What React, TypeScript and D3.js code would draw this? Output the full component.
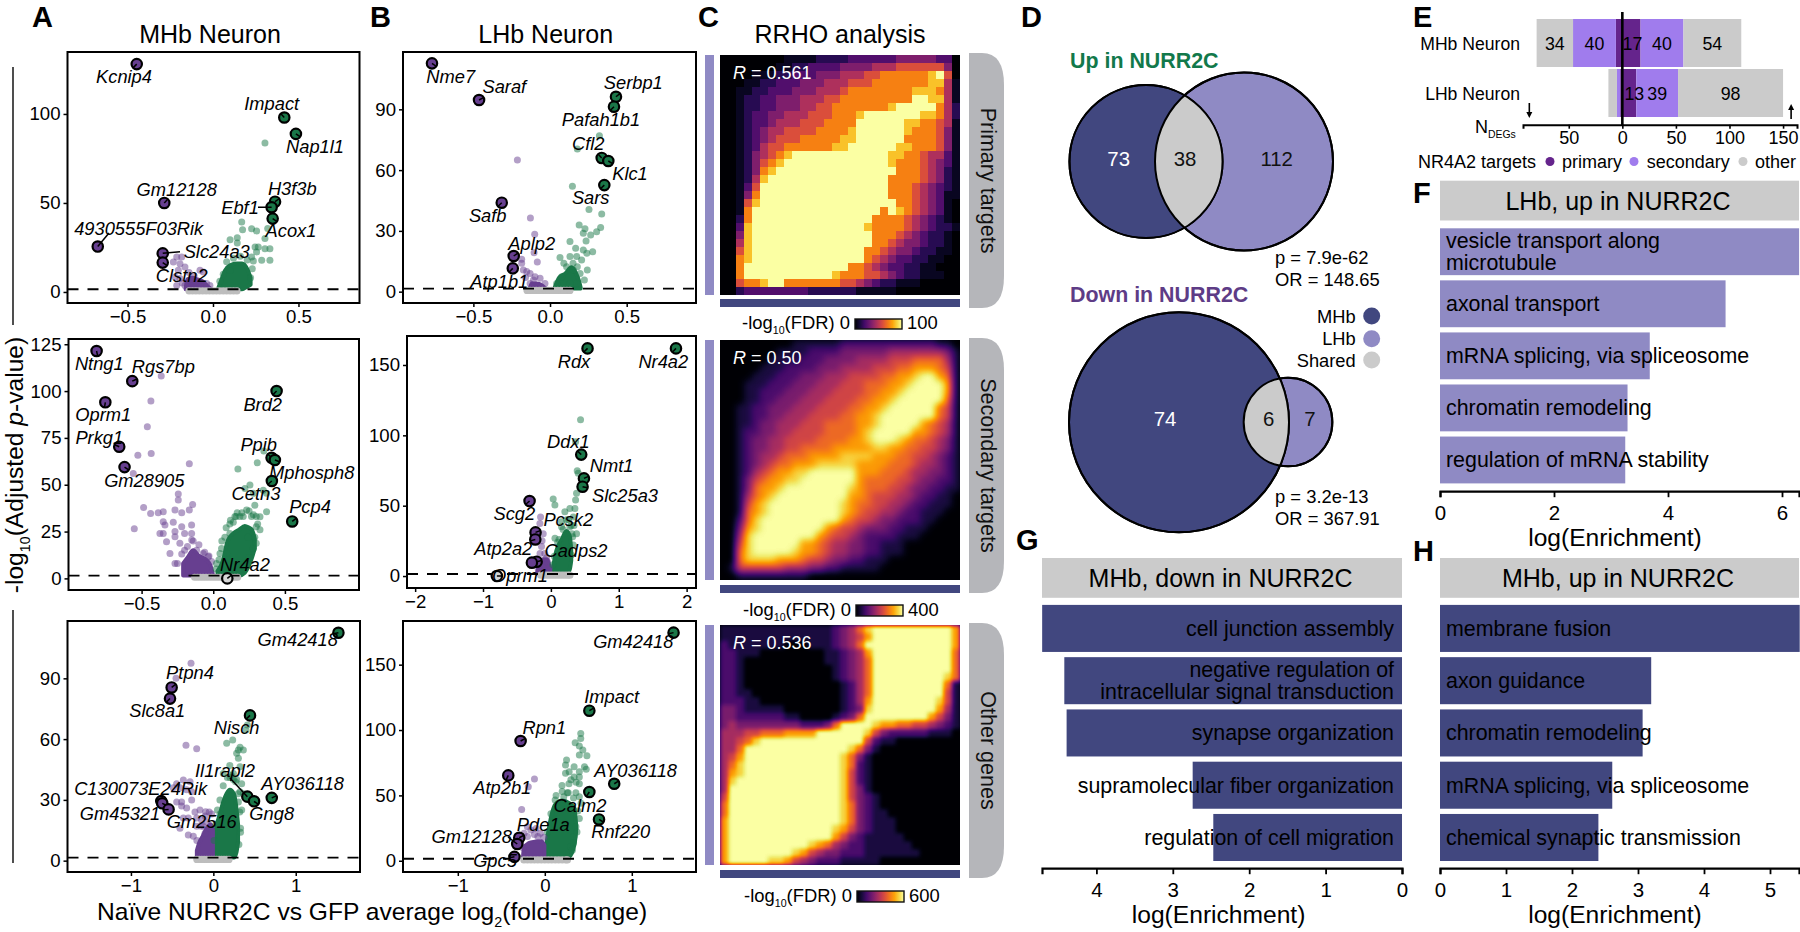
import React, { useEffect, useRef } from "react";
import * as d3 from "d3";

type Pt = [number, number];
type Core = [number, number, number?];

// ---- volcano data: [log2FC, -log10 p]
const mhbPrimaryGenes: [string, number, number][] = [["Kcnip4", -0.446, 128], ["Impact", 0.417, 98], ["Nap1l1", 0.485, 88.8], ["Gm12128", -0.285, 50], ["4930555F03Rik", -0.674, 25.5], ["Slc24a3", -0.294, 21.7], ["Clstn2", -0.294, 16.5], ["H3f3b", 0.363, 50.7], ["Ebf1", 0.343, 47.6], ["Acox1", 0.349, 41.2]];
const mhbPrimaryUp: Pt[] = [[0.304, 83.7], [0.168, 39.3], [0.173, 35], [0.226, 35.5], [0.255, 34.3], [0.32, 35.6], [0.304, 30], [0.1, 29.4], [0.142, 30.5], [0.142, 27.5], [0.246, 25.3], [0.265, 25.3], [0.333, 24.3], [0.304, 24.3], [0.255, 22.5], [0.285, 17.8], [0.333, 17.8], [0.236, 17.4], [0.226, 19.7], [0.08, 17], [0.12, 19], [0.16, 20], [0.2, 18], [0.23, 13], [0.22, 8], [0.06, 10], [0.04, 6], [0.1, 12]];
const mhbPrimaryDown: Pt[] = [[-0.183, 19.7], [-0.212, 19.7], [-0.232, 16.9], [-0.193, 15.9], [-0.164, 14], [-0.203, 12.2], [-0.222, 8.4], [-0.193, 7.5], [-0.212, 3.7], [-0.164, 3.7], [-0.057, 11.2], [-0.037, 4.7], [-0.018, 3.7], [-0.076, 12.2], [-0.14, 11], [-0.11, 9], [-0.18, 5]];
const mhbPrimaryUpCore: Core[] = [[0.03, 2], [0.05, 7], [0.07, 12], [0.1, 15], [0.14, 16], [0.17, 16], [0.2, 13, 3], [0.22, 8, 4]];
const mhbPrimaryDownCore: Core[] = [[-0.16, 2], [-0.15, 7], [-0.12, 8], [-0.09, 7], [-0.06, 6], [-0.03, 3], [-0.01, 1.6]];
const mhbPrimaryNs = [-0.14, -0.12, -0.1, -0.08, -0.06, -0.04, -0.02, 0, 0.02, 0.04, 0.06, 0.08, 0.1, 0.12, 0.14];
const mhbPrimaryLabels: [number, number, number?, number?][] = [[124, 82.7], [271.7, 110], [315, 153], [176.7, 195.7], [138.7, 235, 109, 233], [216.7, 258, 180, 251.7], [181.7, 281.7], [292.3, 195], [240, 214, 258, 207.3], [291, 237.3]];

const lhbPrimaryGenes: [string, number, number][] = [["Nme7", -0.77, 112.7], ["Saraf", -0.463, 94.6], ["Serbp1", 0.43, 96.2], ["Pafah1b1", 0.417, 91.3], ["Cfl2", 0.337, 66], ["Klc1", 0.38, 64.5], ["Sars", 0.354, 52.6], ["Safb", -0.315, 43.9], ["Aplp2", -0.237, 17.6], ["Atp1b1", -0.243, 11.5]];
const lhbPrimaryUp: Pt[] = [[0.322, 77], [0.178, 70.4], [0.146, 52], [0.254, 40.6], [0.337, 38.3], [0.33, 31.7], [0.304, 29.6], [0.265, 28], [0.19, 32.9], [0.228, 31], [0.217, 28.8], [0.235, 25], [0.13, 24.7], [0.167, 21.4], [0.217, 20.6], [0.278, 19.7], [0.24, 19], [0.065, 16.8], [0.13, 17.3], [0.174, 17.3], [0.206, 15.6], [0.243, 10.7], [0.224, 5.8], [0.178, 12.3], [0.108, 12.3], [0.152, 10.7], [0.196, 9], [0.076, 7.4], [0.043, 4], [0.13, 4], [0.174, 4], [0.09, 14], [0.15, 14]];
const lhbPrimaryDown: Pt[] = [[-0.213, 65], [-0.128, 36.3], [-0.1, 28.3], [-0.104, 19.2], [-0.083, 14.6], [-0.185, 14], [-0.174, 10.7], [-0.152, 9.9], [-0.13, 9], [-0.098, 7.4], [-0.065, 6.6], [-0.033, 4], [-0.13, 4], [-0.108, 5.7], [-0.185, 16], [-0.16, 7]];
const lhbPrimaryUpCore: Core[] = [[0.03, 2], [0.06, 7], [0.1, 9], [0.14, 12], [0.17, 9], [0.19, 5], [0.2, 2]];
const lhbPrimaryDownCore: Core[] = [[-0.13, 2], [-0.12, 4], [-0.09, 4], [-0.05, 3], [-0.03, 1.6]];
const lhbPrimaryNs = [-0.15, -0.13, -0.11, -0.09, -0.07, -0.05, -0.03, -0.01, 0.01, 0.03, 0.05, 0.07, 0.09, 0.11, 0.13];
const lhbPrimaryLabels: [number, number, number?, number?][] = [[450.7, 82.7], [504.3, 92.7], [633.3, 89.3], [601, 125.7], [588.3, 150], [630, 180], [590.7, 204], [487.7, 222.3], [531.7, 250], [499.3, 288.3]];

const mhbSecondaryGenes: [string, number, number][] = [["Ntng1", -0.814, 121.4], ["Rgs7bp", -0.565, 105.3], ["Oprm1", -0.753, 94], ["Prkg1", -0.656, 70.3], ["Gm28905", -0.619, 59.4], ["Brd2", 0.442, 100], ["Ppib", 0.407, 64.4], ["Mphosph8", 0.43, 63.2], ["Cetn3", 0.409, 52], ["Pcp4", 0.551, 30.4], ["Nr4a2", 0.098, 0]];
const mhbSecondaryUp: Pt[] = [[0.353, 68], [0.172, 58.4], [0.307, 61.7], [0.256, 49.8], [0.221, 48], [0.28, 45.4], [0.349, 47], [0.372, 45.4], [0.372, 35.6], [0.326, 32.9], [0.29, 39], [0.233, 36.5], [0.167, 35], [0.151, 33], [0.186, 33], [0.267, 33], [0.3, 27.6], [0.116, 29], [0.116, 24], [0.058, 16], [0.081, 22], [0.093, 13.3], [0.3, 18.7], [0.047, 13.3], [0.023, 8], [0.244, 22], [0.209, 33], [0.326, 26], [0.14, 30], [0.3, 33], [0.06, 20], [0.09, 27], [0.12, 31], [0.16, 33], [0.2, 35], [0.25, 36], [0.28, 34], [0.31, 29], [0.29, 22], [0.28, 16], [0.25, 11], [0.22, 6], [0.04, 10], [0.02, 5]];
const mhbSecondaryDown: Pt[] = [[-0.363, 108], [-0.435, 94.7], [-0.46, 81], [-0.526, 65.8], [-0.433, 66.7], [-0.167, 61.2], [-0.558, 56], [-0.244, 45], [-0.244, 41.8], [-0.144, 39.5], [-0.486, 37.9], [-0.437, 34.7], [-0.384, 35], [-0.349, 35.6], [-0.267, 36.5], [-0.22, 35], [-0.167, 36.5], [-0.551, 26.5], [-0.349, 30.2], [-0.337, 28.5], [-0.279, 30], [-0.22, 27.6], [-0.151, 28.5], [-0.372, 24], [-0.349, 24], [-0.267, 25], [-0.267, 22.2], [-0.326, 19.6], [-0.2, 24], [-0.151, 24], [-0.233, 18.7], [-0.15, 20.5], [-0.302, 13.3], [-0.267, 8], [-0.2, 15], [-0.116, 15], [-0.07, 13.3], [-0.035, 11.6], [-0.012, 9], [-0.25, 8], [-0.22, 13], [-0.18, 17], [-0.14, 20], [-0.1, 18], [-0.06, 14], [-0.03, 12]];
const mhbSecondaryUpCore: Core[] = [[0.03, 4], [0.07, 10], [0.1, 20], [0.14, 24], [0.18, 26], [0.22, 28, 3], [0.25, 27, 7], [0.27, 26, 11], [0.29, 21, 16]];
const mhbSecondaryDownCore: Core[] = [[-0.21, 8], [-0.18, 11], [-0.14, 15], [-0.1, 12], [-0.05, 10], [-0.02, 7], [-0.002, 2]];
const mhbSecondaryNs = [-0.13, -0.11, -0.09, -0.07, -0.05, -0.03, -0.01, 0.01, 0.03, 0.05, 0.07, 0.09, 0.11, 0.13, 0.15, 0.17];
const mhbSecondaryLabels: [number, number, number?, number?][] = [[99.3, 370], [163.3, 372.7], [103.3, 421], [99.3, 444.3], [144.3, 486.7], [262.7, 411], [258.7, 451], [311.7, 479.3], [256, 500], [310, 513.3], [245, 570.7]];

const lhbSecondaryGenes: [string, number, number][] = [["Rdx", 0.54, 161.8], ["Nr4a2", 1.843, 161.8], ["Ddx1", 0.447, 86.3], ["Nmt1", 0.487, 69.4], ["Slc25a3", 0.467, 63.5], ["Scg2", -0.314, 53.3], ["Pcsk2", -0.226, 31], ["Atp2a2", -0.23, 26], ["Cadps2", -0.21, 10.2], ["", -0.28, 9.5], ["Oprm1", -0.796, 0]];
const lhbSecondaryUp: Pt[] = [[0.437, 111], [0.364, 95.5], [0.388, 74.9], [0.403, 73], [0.034, 54.7], [0.059, 50.5], [0.378, 58.8], [0.364, 54], [0.28, 48], [0.354, 48], [0.206, 45.7], [0.157, 38.6], [0.33, 42], [0.23, 40], [0.378, 30], [0.28, 35], [0.06, 26.8], [0.157, 35], [0.34, 36], [0.31, 30], [0.1, 24], [0.33, 22], [0.3, 15], [0.05, 14], [0.18, 33], [0.26, 40], [0.3, 36], [0.32, 28], [0.03, 8], [0.12, 26]];
const lhbSecondaryDown: Pt[] = [[-0.152, 42], [-0.162, 37.4], [-0.113, 30], [-0.138, 21], [-0.16, 16], [-0.09, 16], [-0.065, 13], [-0.187, 5], [-0.13, 25], [-0.18, 10], [-0.05, 10], [-0.02, 6]];
const lhbSecondaryUpCore: Core[] = [[0.02, 3], [0.08, 18], [0.16, 26], [0.23, 32], [0.28, 28, 5], [0.3, 18, 11]];
const lhbSecondaryDownCore: Core[] = [[-0.2, 3], [-0.17, 8], [-0.12, 12], [-0.06, 12], [-0.01, 4]];
const lhbSecondaryNs = [-0.15, -0.11, -0.07, -0.03, 0.01, 0.05, 0.09, 0.13, 0.17, 0.21, 0.25, 0.28];
const lhbSecondaryLabels: [number, number, number?, number?][] = [[574, 367.7], [663.3, 367.7], [568.3, 448.3], [611.7, 471.7], [625, 502.3], [514.3, 520], [568.3, 525.7], [503.3, 555], [576, 557.3], [0, 0], [520, 581.7]];

const mhbOtherGenes: [string, number, number][] = [["Gm42418", 1.518, 112.5], ["Ptpn4", -0.506, 85.5], ["Slc8a1", -0.526, 80], ["Nisch", 0.445, 71.7], ["Il1rapl2", 0.413, 31.6], ["Gng8", 0.494, 29.3], ["AY036118", 0.709, 31], ["C130073E24Rik", -0.632, 29.4], ["Gm2516", -0.62, 28.3], ["Gm45321", -0.543, 25.3]];
const mhbOtherUp: Pt[] = [[0.413, 67], [0.397, 64.5], [0.162, 58], [0.235, 59.5], [0.304, 54.6], [0.364, 54.6], [0.324, 56], [0.283, 53], [0.304, 50.5], [0.2, 47], [0.324, 46.4], [0.121, 43], [0.243, 43], [0.344, 38], [0.283, 40], [0.202, 41], [0.243, 40], [0.364, 33], [0.324, 34], [0.304, 29], [0.081, 23], [0.06, 18.5], [0.344, 25], [0.33, 16], [0.31, 8], [0.08, 30], [0.12, 37], [0.17, 41], [0.22, 42], [0.27, 39], [0.3, 33], [0.32, 24], [0.33, 14], [0.05, 25], [0.03, 18], [0.01, 10]];
const mhbOtherDown: Pt[] = [[-0.271, 97.4], [-0.453, 90], [-0.332, 57], [-0.202, 55.3], [-0.364, 39.8], [-0.445, 38], [-0.283, 39], [-0.486, 36], [-0.405, 36], [-0.324, 35], [-0.263, 34], [-0.385, 29], [-0.445, 29], [-0.263, 30], [-0.162, 25], [-0.324, 26], [-0.385, 27], [-0.223, 24], [-0.093, 24.2], [-0.304, 21], [-0.364, 21], [-0.202, 21], [-0.405, 16], [-0.304, 12.7], [-0.243, 12], [-0.202, 17], [-0.121, 17], [-0.142, 20], [-0.081, 19], [-0.101, 13.5], [-0.1, 22], [-0.05, 24], [-0.15, 17], [-0.2, 10], [-0.02, 23]];
const mhbOtherUpCore: Core[] = [[0.005, 3], [0.02, 12], [0.05, 19], [0.08, 23], [0.12, 29], [0.16, 33], [0.2, 35], [0.25, 33], [0.28, 26, 4], [0.3, 18, 9]];
const mhbOtherDownCore: Core[] = [[-0.2, 5], [-0.17, 9], [-0.13, 12], [-0.08, 16], [-0.03, 18], [-0.005, 15]];
const mhbOtherNs = [-0.2, -0.17, -0.14, -0.11, -0.08, -0.05, -0.02, 0.01, 0.04, 0.07, 0.1, 0.13, 0.16, 0.19];
const mhbOtherLabels: [number, number, number?, number?][] = [[297.7, 646], [190, 679], [157.3, 717.3], [236.7, 734.3], [225, 776.7, 230, 778], [271.7, 820], [302.7, 790], [140.7, 795], [201.7, 828.3], [120, 820]];

const lhbOtherGenes: [string, number, number][] = [["Gm42418", 1.48, 174.5], ["Impact", 0.512, 114.8], ["Rpn1", -0.278, 91.6], ["Atp2b1", -0.42, 65.3], ["AY036118", 0.798, 58.9], ["Calm2", 0.512, 52.6], ["Rnf220", 0.623, 31.6], ["Pde1a", -0.294, 17.6], ["Gm12128", -0.317, 12.8], ["Gpc5", -0.349, 3]];
const lhbOtherUp: Pt[] = [[0.413, 97.4], [0.413, 93.6], [0.349, 90.3], [0.397, 87.8], [0.437, 84.7], [0.397, 80.9], [0.484, 80.4], [0.25, 77], [0.238, 73.2], [0.337, 72], [0.456, 72], [0.476, 70], [0.397, 68], [0.238, 67], [0.397, 64], [0.337, 64], [0.278, 59], [0.397, 59], [0.198, 57.5], [0.258, 52], [0.218, 49], [0.357, 52], [0.397, 49], [0.417, 44], [0.119, 46.5], [0.397, 32.4], [0.357, 26], [0.298, 10.7], [0.337, 18.5], [0.317, 8], [0.03, 22], [0.07, 36], [0.13, 50], [0.2, 53], [0.27, 52], [0.33, 48], [0.38, 38], [0.37, 22], [0.33, 14], [0.3, 62], [0.28, 68], [0.36, 60]];
const lhbOtherDown: Pt[] = [[-0.119, 62.5], [-0.19, 56.6], [-0.266, 39.3], [-0.2, 26], [-0.1, 24.7], [-0.16, 23.5], [-0.238, 21], [-0.2, 18.5], [-0.08, 18.5], [-0.278, 13.5], [-0.12, 20], [-0.05, 21], [-0.01, 18], [-0.25, 10]];
const lhbOtherUpCore: Core[] = [[0.005, 2], [0.02, 13], [0.05, 26], [0.12, 43], [0.2, 46], [0.28, 44, 3], [0.34, 40, 12], [0.36, 28, 22]];
const lhbOtherDownCore: Core[] = [[-0.25, 3], [-0.24, 10], [-0.16, 14], [-0.04, 15], [-0.005, 12]];
const lhbOtherNs = [-0.24, -0.2, -0.16, -0.12, -0.08, -0.04, 0, 0.04, 0.08, 0.12, 0.16, 0.2, 0.24, 0.26];
const lhbOtherLabels: [number, number, number?, number?][] = [[633.3, 648.3], [611.7, 703.3], [544.3, 733.7], [502.3, 794.3], [635.7, 776.7], [580, 811.7], [620.7, 838.3], [543.3, 831], [471.7, 842.7, 508, 837], [495, 866.7]];

// ---- RRHO grids, digit 0-9 = share of the colour bar read from each cell
const rrhoPrimary = [
  "000000001111222233333344444330", "000000011223333444455566666640", "000011122333444555667777778960",
  "000112233344455566677777778851", "001122333444555677777777888751", "001223344455566777777777998851",
  "001223344455667777777899999752", "001233445556667778999999988752", "001233455566677779999998877651",
  "001234556666777789999998777641", "001234566677777889999997777641", "001235667777778899999988777641",
  "001245678999999999999887765531", "001246789999999999999877765431", "001247899999999999999977765421",
  "001258999999999999999777765421", "001369999999999999999777654321", "001479999999999999999777654311",
  "001689999999999999999977654310", "001799999999999999997987654310", "002799999999999999977776543210",
  "003899999999999999877776543221", "004899999999999999977765432210", "005899999999999999977654432210",
  "006899999999999999776544322110", "007899999999999999765433221100", "007999999999999977654332211000",
  "007999999999998777665432211100", "006778997777777665432211100000", "002333333332222221111100000000",
];
const rrhoSecondary = [
  "000000000111111222222222222110", "000000011112222333333444444431", "000000111122233334444555666641",
  "000001112222333444455566777651", "000011122233344455556677899761", "000111222333444555666778999971",
  "000112223334445555667789999971", "000112233344455556677899999961", "001122333444555566778999999651",
  "001122334445555667789999999651", "001123344455566667789999976541", "001223344555566667899999776541",
  "001233445555666677899987665431", "001233445566667777788776655431", "001234456667777888877766554321",
  "001234566777888887777666544321", "001245677889999997776665443321", "001356778899999997666655433221",
  "001367789999999987666554332211", "001467899999999977655544322110", "001578999999999876655443221110",
  "001678999999999876554432211100", "002689999999999765543322211000", "003789999999976554333221110000",
  "004899999999765543222211100000", "005899999977654433221110000000", "006899999877654433221110000000",
  "006888877765543322111000000000", "015555554443322111110000000000", "001111111110000000000000000000",
];
const rrhoOther = [
  "111111111111112346899999999997", "111111111111112345799999999997", "211111110001112346999999999997",
  "221110000000011234799999999996", "221000000000011234699999999996", "221000000000001234699999999996",
  "221000000000001234699999999986", "221000000000000124699999999961", "221100000000000124699999999951",
  "222110000000000124799999999851", "332111110000000123899999999741", "332222221100001236999999997531",
  "343333333322236999987766554321", "444556667777999999853222221110", "445689999999999999521100000000",
  "446999999999999986310000000000", "457999999999999863100000000000", "468999999999999862100000000000",
  "478999999999999852100000000000", "489999999999999852100000000000", "499999999999999853100000000000",
  "599999999999999853210000000000", "699999999999999863210000000000", "699999999999999863211000000000",
  "799999999999999863211100000000", "799999999999998753211100000000", "799999999999997532111110000000",
  "799999999998764322111111000000", "799999999875433222111111100000", "799999887543222111110000000000",
];

// ---- D, E, F, G, H
const vennUp = { mhb: 73, shared: 38, lhb: 112 };
const vennDown = { mhb: 74, shared: 6, lhb: 7 };
const targetKeys = ["primary", "secondary", "other"];
const degUp = [{ primary: 17, secondary: 40, other: 54 }, { primary: 13, secondary: 39, other: 98 }];
const degDown = [{ primary: 6, secondary: 40, other: 34 }, { primary: 2, secondary: 3, other: 8 }];
const degRows = ["MHb Neuron", "LHb Neuron"];
const lhbUpTerms = ["vesicle transport along\nmicrotubule", "axonal transport", "mRNA splicing, via spliceosome", "chromatin remodeling", "regulation of mRNA stability"];
const lhbUpValues = [6.3, 5.01, 3.68, 3.29, 3.25];
const mhbDownTerms = ["cell junction assembly", "negative regulation of\nintracellular signal transduction", "synapse organization", "supramolecular fiber organization", "regulation of cell migration"];
const mhbDownValues = [4.71, 4.42, 4.39, 2.74, 2.47];
const mhbUpTerms = ["membrane fusion", "axon guidance", "chromatin remodeling", "mRNA splicing, via spliceosome", "chemical synaptic transmission"];
const mhbUpValues = [5.45, 3.2, 3.07, 2.61, 2.4];

const GREEN = "#1a7748";
const PURPLE = "#673f90";
const DARK = "#41477f";
const LIGHT = "#8f8ac4";
const GREY = "#cbcbcb";
const FONT = "'Liberation Sans', Arial, sans-serif";

const panels = [
  { box: [67.5, 52, 359.5, 303], xd: [-0.851, 0.857], yd: [-6.2, 134.8], xt: [-0.5, 0, 0.5], yt: [0, 50, 100], fmt: ".1f", genes: mhbPrimaryGenes, up: mhbPrimaryUp, down: mhbPrimaryDown, upCore: mhbPrimaryUpCore, downCore: mhbPrimaryDownCore, ns: mhbPrimaryNs, labels: mhbPrimaryLabels },
  { box: [403, 52, 696, 303], xd: [-0.959, 0.952], yd: [-5.6, 118.3], xt: [-0.5, 0, 0.5], yt: [0, 30, 60, 90], fmt: ".1f", genes: lhbPrimaryGenes, up: lhbPrimaryUp, down: lhbPrimaryDown, upCore: lhbPrimaryUpCore, downCore: lhbPrimaryDownCore, ns: lhbPrimaryNs, labels: lhbPrimaryLabels },
  { box: [68.5, 339, 359, 590], xd: [-1.01, 1.017], yd: [-6.2, 127.8], xt: [-0.5, 0, 0.5], yt: [0, 25, 50, 75, 100, 125], fmt: ".1f", genes: mhbSecondaryGenes, up: mhbSecondaryUp, down: mhbSecondaryDown, upCore: mhbSecondaryUpCore, downCore: mhbSecondaryDownCore, ns: mhbSecondaryNs, labels: mhbSecondaryLabels },
  { box: [407, 336, 696, 588], xd: [-2.12, 2.138], yd: [-8.5, 170.6], xt: [-2, -1, 0, 1, 2], yt: [0, 50, 100, 150], fmt: "d", genes: lhbSecondaryGenes, up: lhbSecondaryUp, down: lhbSecondaryDown, upCore: lhbSecondaryUpCore, downCore: lhbSecondaryDownCore, ns: lhbSecondaryNs, labels: lhbSecondaryLabels },
  { box: [67.5, 621, 360, 872], xd: [-1.77, 1.78], yd: [-5.6, 118.3], xt: [-1, 0, 1], yt: [0, 30, 60, 90], fmt: "d", genes: mhbOtherGenes, up: mhbOtherUp, down: mhbOtherDown, upCore: mhbOtherUpCore, downCore: mhbOtherDownCore, ns: mhbOtherNs, labels: mhbOtherLabels },
  { box: [403, 621, 696, 872], xd: [-1.63, 1.738], yd: [-8.6, 183.4], xt: [-1, 0, 1], yt: [0, 50, 100, 150], fmt: "d", genes: lhbOtherGenes, up: lhbOtherUp, down: lhbOtherDown, upCore: lhbOtherUpCore, downCore: lhbOtherDownCore, ns: lhbOtherNs, labels: lhbOtherLabels },
];

const heatmaps = [
  { grid: rrhoPrimary, top: 55, r: "0.561", blur: 0.7, gamma: 1.3, max: "100", stripTop: 53, stripBottom: 308, strip2: [299, 307], facet: "Primary targets", facetX: 981, cbar: [855, 319, 902, 329] },
  { grid: rrhoSecondary, top: 340, r: "0.50", blur: 3.5, gamma: 1, max: "400", stripTop: 338, stripBottom: 593, strip2: [585, 593], facet: "Secondary targets", facetX: 981, cbar: [856, 605, 903, 616] },
  { grid: rrhoOther, top: 625, r: "0.536", blur: 2.2, gamma: 1, max: "600", stripTop: 623, stripBottom: 878, strip2: [870, 878], facet: "Other genes", facetX: 981, cbar: [857, 891, 904, 902] },
];

type Sel = d3.Selection<any, any, any, any>;

function put(g: Sel, x: number, y: number, s: string, size: number, anchor = "start", extra: Record<string, string> = {}) {
  const t = g.append("text").attr("x", x).attr("y", y).attr("font-size", size).attr("text-anchor", anchor).text(s);
  Object.entries(extra).forEach(([k, v]) => t.attr(k, v));
  return t;
}

function subscripted(t: Sel, before: string, sub: string, after: string, size: number) {
  t.append("tspan").text(before);
  t.append("tspan").attr("font-size", size * 0.58).attr("dy", size * 0.28).text(sub);
  return t.append("tspan").attr("dy", -size * 0.28).text(after);
}

function drawVolcano(g: Sel, p: (typeof panels)[number]) {
  const [x0, y0, x1, y1] = p.box;
  const x = d3.scaleLinear().domain(p.xd).range([x0, x1]);
  const y = d3.scaleLinear().domain(p.yd).range([y1, y0]);
  const ax = g.append("g").attr("transform", `translate(0,${y1})`).call(d3.axisBottom(x).tickValues(p.xt).tickSize(4).tickPadding(3).tickFormat(d3.format(p.fmt) as any));
  const ay = g.append("g").attr("transform", `translate(${x0},0)`).call(d3.axisLeft(y).tickValues(p.yt).tickSize(4).tickPadding(3));
  [ax, ay].forEach((a) => {
    a.select(".domain").remove();
    a.selectAll("text").attr("font-size", 18.6).attr("font-family", FONT).attr("fill", "#000");
    a.selectAll("line").attr("stroke", "#000").attr("stroke-width", 1.5);
  });
  const base = 1.5;
  // the saturated middle of each cloud: upper and lower edge read per log2FC
  const core = d3.area<Core>().x((d) => x(d[0])).y0((d) => y(d[2] ?? base)).y1((d) => y(d[1])).curve(d3.curveMonotoneX);
  g.append("path").attr("d", core(p.upCore)).attr("fill", GREEN).attr("stroke", GREEN).attr("stroke-width", 4).attr("stroke-linejoin", "round");
  g.append("path").attr("d", core(p.downCore)).attr("fill", PURPLE).attr("stroke", PURPLE).attr("stroke-width", 4).attr("stroke-linejoin", "round");
  g.selectAll(".dn").data(p.down).join("circle").attr("class", "dn").attr("cx", (d) => x(d[0])).attr("cy", (d) => y(d[1])).attr("r", 3.5).attr("fill", PURPLE).attr("opacity", 0.5);
  g.selectAll(".up").data(p.up).join("circle").attr("class", "up").attr("cx", (d) => x(d[0])).attr("cy", (d) => y(d[1])).attr("r", 3.5).attr("fill", GREEN).attr("opacity", 0.5);
  g.selectAll(".ns").data(p.ns).join("circle").attr("class", "ns").attr("cx", (d) => x(d)).attr("cy", y(0.6)).attr("r", 3.6).attr("fill", "#bdbdbd");
  g.append("line").attr("x1", x0).attr("x2", x1).attr("y1", y(base)).attr("y2", y(base)).attr("stroke", "#000").attr("stroke-width", 1.9).attr("stroke-dasharray", "11 9");

  p.genes.forEach((gene, i) => {
    const [name, gx, gy] = gene;
    const cx = x(gx), cy = y(gy);
    const hollow = gy === 0;
    g.append("circle").attr("cx", cx).attr("cy", cy).attr("r", 5.2).attr("fill", hollow ? "#d6d6d6" : gx > 0 ? GREEN : PURPLE).attr("stroke", "#000").attr("stroke-width", 2.2);
    if (!name) return;
    const [lx, ly, ex, ey] = p.labels[i];
    let tx = ex, ty = ey;
    if (tx === undefined || ty === undefined) {
      const dx = lx - cx, dy = ly - 6 - cy;
      const len = Math.hypot(dx, dy) || 1;
      tx = cx + (dx / len) * 5;
      ty = cy + (dy / len) * 5;
    }
    g.append("line").attr("x1", cx).attr("y1", cy).attr("x2", tx).attr("y2", ty).attr("stroke", "#000").attr("stroke-width", 1.5);
    put(g, lx, ly, name, 18.3, "middle", { "font-style": "italic" });
  });
  g.append("rect").attr("x", x0).attr("y", y0).attr("width", x1 - x0).attr("height", y1 - y0).attr("fill", "none").attr("stroke", "#000").attr("stroke-width", 2);
}

function drawHeatmap(g: Sel, h: (typeof heatmaps)[number], i: number, defs: Sel) {
  const left = 720, size = 240;
  const rows = d3.scaleBand<number>().domain(d3.range(h.grid.length)).range([h.top, h.top + size]);
  const cols = d3.scaleBand<number>().domain(d3.range(h.grid[0].length)).range([left, left + size]);
  const level = d3.scalePow().exponent(h.gamma).domain([0, 9]).range([0, 255]);
  g.append("rect").attr("x", 705).attr("y", h.top).attr("width", 9).attr("height", size).attr("fill", LIGHT);
  g.append("rect").attr("x", left).attr("y", h.strip2[0]).attr("width", size).attr("height", h.strip2[1] - h.strip2[0]).attr("fill", DARK);
  g.append("rect").attr("x", left).attr("y", h.top).attr("width", size).attr("height", size).attr("fill", "#000");

  defs.append("clipPath").attr("id", `heatclip${i}`).append("rect").attr("x", left).attr("y", h.top).attr("width", size).attr("height", size);
  // cells hold the value as grey; the filter smooths it and then maps it through inferno
  const f = defs.append("filter").attr("id", `heatblur${i}`).attr("x", "-5%").attr("y", "-5%").attr("width", "110%").attr("height", "110%").attr("color-interpolation-filters", "sRGB");
  f.append("feGaussianBlur").attr("stdDeviation", h.blur);
  const inferno = d3.range(0, 1.001, 1 / 48).map((t) => d3.rgb(d3.interpolateInferno(t)));
  const tr = f.append("feComponentTransfer");
  tr.append("feFuncR").attr("type", "table").attr("tableValues", inferno.map((c) => (c.r / 255).toFixed(3)).join(" "));
  tr.append("feFuncG").attr("type", "table").attr("tableValues", inferno.map((c) => (c.g / 255).toFixed(3)).join(" "));
  tr.append("feFuncB").attr("type", "table").attr("tableValues", inferno.map((c) => (c.b / 255).toFixed(3)).join(" "));
  const outer = g.append("g").attr("clip-path", `url(#heatclip${i})`);
  const cells = outer.append("g").attr("filter", `url(#heatblur${i})`);
  cells.append("rect").attr("x", left - 6).attr("y", h.top - 6).attr("width", size + 12).attr("height", size + 12).attr("fill", "#000");
  h.grid.forEach((row, r) => {
    cells.selectAll(`.c${r}`).data(row.split("").map(Number)).join("rect").attr("class", `c${r}`)
      .attr("x", (_, c) => cols(c)!).attr("y", rows(r)!).attr("width", cols.bandwidth() + 0.5).attr("height", rows.bandwidth() + 0.5)
      .attr("fill", (d) => { const v = Math.round(level(d)); return `rgb(${v},${v},${v})`; });
  });

  const rt = put(g, 733, h.top + 24, "", 18, "start", { fill: "#fff" });
  rt.append("tspan").attr("font-style", "italic").text("R");
  rt.append("tspan").text(` = ${h.r}`);

  // facet strip
  const [fx0, fx1] = [969, 1004];
  g.append("path").attr("d", `M${fx0},${h.stripTop}H${fx1 - 22}Q${fx1},${h.stripTop} ${fx1},${h.stripTop + 32}V${h.stripBottom - 32}Q${fx1},${h.stripBottom} ${fx1 - 22},${h.stripBottom}H${fx0}Z`).attr("fill", "#b5b6ba");
  const mid = (h.stripTop + h.stripBottom) / 2;
  put(g, 0, 0, h.facet, 21.5, "middle", { transform: `translate(${h.facetX},${mid}) rotate(90)`, fill: "#111" });

  // colour bar
  const [cx0, cy0, cx1, cy1] = h.cbar;
  const grad = defs.append("linearGradient").attr("id", `cbar${i}`);
  d3.range(0, 1.01, 0.1).forEach((t) => grad.append("stop").attr("offset", t).attr("stop-color", d3.interpolateInferno(t)));
  g.append("rect").attr("x", cx0).attr("y", cy0).attr("width", cx1 - cx0).attr("height", cy1 - cy0).attr("fill", `url(#cbar${i})`).attr("stroke", "#111").attr("stroke-width", 1.4);
  const lab = put(g, cx0 - 5, cy1 - 0.5, "", 18.4, "end");
  subscripted(lab, "-log", "10", "(FDR) 0", 18.4);
  put(g, cx1 + 5, cy1 - 0.5, h.max, 18.4);
}

function drawVenn(g: Sel, defs: Sel, id: string, counts: typeof vennUp, cfg: { cx0: number; cy0: number; cx1: number; cy1: number; rMax: number; total: number; labels: number[]; ly: number; dark: boolean[] }) {
  const r = d3.scaleSqrt().domain([0, cfg.total]).range([0, cfg.rMax]);
  const rA = r(counts.mhb + counts.shared);
  const rB = r(counts.lhb + counts.shared);
  defs.append("clipPath").attr("id", id).append("circle").attr("cx", cfg.cx0).attr("cy", cfg.cy0).attr("r", rA);
  g.append("circle").attr("cx", cfg.cx1).attr("cy", cfg.cy1).attr("r", rB).attr("fill", LIGHT).attr("stroke", "#000").attr("stroke-width", 2);
  g.append("circle").attr("cx", cfg.cx0).attr("cy", cfg.cy0).attr("r", rA).attr("fill", DARK).attr("stroke", "#000").attr("stroke-width", 2);
  g.append("circle").attr("cx", cfg.cx1).attr("cy", cfg.cy1).attr("r", rB).attr("fill", GREY).attr("clip-path", `url(#${id})`);
  g.append("circle").attr("cx", cfg.cx0).attr("cy", cfg.cy0).attr("r", rA).attr("fill", "none").attr("stroke", "#000").attr("stroke-width", 2);
  g.append("circle").attr("cx", cfg.cx1).attr("cy", cfg.cy1).attr("r", rB).attr("fill", "none").attr("stroke", "#000").attr("stroke-width", 2);
  [counts.mhb, counts.shared, counts.lhb].forEach((n, i) => {
    put(g, cfg.labels[i], cfg.ly, String(n), 20.4, "middle", { fill: cfg.dark[i] ? "#fff" : "#111", "dominant-baseline": "central" });
  });
}

function drawEnrichment(g: Sel, terms: string[], values: number[], o: { header: string; fill: string; x0: number; x1: number; zero: number; perUnit: number; headerTop: number; top: number; bottom: number; axisY: number; ticks: number[]; reversed?: boolean; titleX: number; headerX: number }) {
  const dir = o.reversed ? -1 : 1;
  const x = d3.scaleLinear().domain([0, 1]).range([o.zero, o.zero + dir * o.perUnit]);
  const y = d3.scaleBand<string>().domain(terms).range([o.top, o.bottom]).paddingInner(0.1);
  g.append("rect").attr("x", o.x0).attr("y", o.headerTop).attr("width", o.x1 - o.x0).attr("height", 39.8).attr("fill", GREY);
  put(g, o.headerX, o.headerTop + 29, o.header, 25, "middle");
  g.selectAll(".bar").data(terms).join("rect").attr("class", "bar")
    .attr("x", (_, i) => Math.min(x(0), x(values[i]))).attr("y", (d) => y(d)!)
    .attr("width", (_, i) => Math.abs(x(values[i]) - x(0))).attr("height", y.bandwidth()).attr("fill", o.fill);
  terms.forEach((t) => {
    const lines = t.split("\n");
    const cy = y(t)! + y.bandwidth() / 2;
    lines.forEach((line, j) => {
      const ty = cy + 7.5 + (j - (lines.length - 1) / 2) * 22;
      put(g, o.reversed ? o.zero - 8 : o.zero + 6, ty, line, 21.4, o.reversed ? "end" : "start");
    });
  });
  const domainEnd = o.reversed ? o.x0 : o.x1;
  const axisScale = d3.scaleLinear().domain([0, x.invert(domainEnd)]).range([o.zero, domainEnd]);
  const a = g.append("g").attr("transform", `translate(0,${o.axisY})`).call(d3.axisBottom(axisScale).tickValues(o.ticks).tickSize(6).tickPadding(8).tickFormat(d3.format("d") as any));
  a.select(".domain").attr("stroke", "#000").attr("stroke-width", 2.2);
  a.selectAll("line").attr("stroke", "#000").attr("stroke-width", 1.8);
  a.selectAll("text").attr("font-size", 20.5).attr("font-family", FONT).attr("fill", "#000");
  put(g, o.titleX, o.axisY + 54.5, "log(Enrichment)", 24.6, "middle");
}

function drawDegBars(g: Sel) {
  const x = d3.scaleLinear().domain([-92.7, 163]).range([1523, 1797]);
  const y = d3.scaleBand<string>().domain(degRows).range([19, 117]).paddingInner(0.04);
  const color = d3.scaleOrdinal<string>().domain(targetKeys).range(["#65248c", "#a07ced", GREY]);
  const stack = d3.stack<any>().keys(targetKeys);
  const upSeries = stack(degUp);
  const downSeries = stack(degDown);
  [upSeries, downSeries].forEach((series, side) => {
    const sign = side === 0 ? 1 : -1;
    series.forEach((s) => {
      s.forEach((d, i) => {
        const a = x(sign * d[0]), b = x(sign * d[1]);
        g.append("rect").attr("x", Math.min(a, b)).attr("y", y(degRows[i])!).attr("width", Math.abs(b - a)).attr("height", y.bandwidth()).attr("fill", color(s.key));
      });
    });
  });
  [upSeries, downSeries].forEach((series, side) => {
    const sign = side === 0 ? 1 : -1;
    series.forEach((s) => {
      s.forEach((d, i) => {
        const n = d[1] - d[0];
        if (n < 10) return;
        const shift = side === 0 && s.key === "primary" && i === 1 ? 5 : side === 0 && s.key === "primary" ? 1 : 0;
        put(g, x((sign * (d[0] + d[1])) / 2) + shift, y(degRows[i])! + y.bandwidth() / 2 + 6.5, String(n), 17.8, "middle");
      });
    });
  });
  degRows.forEach((r) => put(g, 1520, y(r)! + y.bandwidth() / 2 + 6.5, r, 17.6, "end"));
  const axis = g.append("g").attr("transform", "translate(0,124.7)").call(d3.axisBottom(x).tickValues([-50, 0, 50, 100, 150]).tickSize(4).tickPadding(3).tickFormat((d: any) => String(Math.abs(d))));
  axis.select(".domain").attr("stroke", "#000").attr("stroke-width", 2);
  axis.selectAll("line").attr("stroke", "#000").attr("stroke-width", 1.6);
  axis.selectAll("text").attr("font-size", 18).attr("font-family", FONT).attr("fill", "#000");
  g.append("line").attr("x1", x(0)).attr("x2", x(0)).attr("y1", 12).attr("y2", 125).attr("stroke", "#000").attr("stroke-width", 2.6);

  // N_DEGs and direction arrows
  const nd = put(g, 1475, 133, "", 18);
  subscripted(nd, "N", "DEGs", "", 18);
  const ax1 = x(-86.8), ax2 = x(157.5);
  g.append("line").attr("x1", ax1).attr("x2", ax1).attr("y1", 103).attr("y2", 113).attr("stroke", "#000").attr("stroke-width", 1.6);
  g.append("path").attr("d", `M${ax1 - 3},112L${ax1 + 3},112L${ax1},118Z`).attr("fill", "#000");
  g.append("line").attr("x1", ax2).attr("x2", ax2).attr("y1", 109).attr("y2", 119).attr("stroke", "#000").attr("stroke-width", 1.6);
  g.append("path").attr("d", `M${ax2 - 3},110L${ax2 + 3},110L${ax2},104Z`).attr("fill", "#000");

  // legend
  put(g, 1418, 167.5, "NR4A2 targets", 18);
  [[1550, 1562], [1634, 1646.7], [1743, 1755]].forEach(([dot, tx], i) => {
    g.append("circle").attr("cx", dot).attr("cy", 161.5).attr("r", 4.5).attr("fill", color(targetKeys[i]));
    put(g, tx, 167.5, targetKeys[i], 18);
  });
}

export default function App() {
  const svgRef = useRef<SVGSVGElement>(null);

  useEffect(() => {
    const svg = d3.select(svgRef.current);
    svg.selectAll("*").remove();
    const defs = svg.append("defs");
    const root = svg.append("g").attr("font-family", FONT).attr("fill", "#000");

    // panel letters
    const letters: [string, number, number][] = [["A", 32, 26.5], ["B", 370, 26.5], ["C", 698, 26.5], ["D", 1021, 26.5], ["E", 1413, 26.5], ["F", 1413, 203], ["G", 1016, 550], ["H", 1413, 561]];
    letters.forEach(([l, x, y]) => put(root, x, y, l, 29, "start", { "font-weight": "bold" }));

    put(root, 210, 43, "MHb Neuron", 25, "middle");
    put(root, 545.7, 43, "LHb Neuron", 25, "middle");
    put(root, 840, 43, "RRHO analysis", 25, "middle");

    panels.forEach((p) => drawVolcano(root.append("g"), p));

    const yTitle = put(root, 0, 0, "", 24.6, "middle", { transform: "translate(23,465) rotate(-90)" });
    subscripted(yTitle, "-log", "10", "(Adjusted ", 24.6);
    yTitle.append("tspan").attr("font-style", "italic").text("p");
    yTitle.append("tspan").text("-value)");
    root.append("line").attr("x1", 13).attr("x2", 13).attr("y1", 67).attr("y2", 325).attr("stroke", "#222").attr("stroke-width", 1.6);
    root.append("line").attr("x1", 13).attr("x2", 13).attr("y1", 610).attr("y2", 863).attr("stroke", "#222").attr("stroke-width", 1.6);

    const xTitle = put(root, 97, 920, "", 24.6);
    subscripted(xTitle, "Naïve NURR2C vs GFP average log", "2", "(fold-change)", 24.6);

    heatmaps.forEach((h, i) => drawHeatmap(root.append("g"), h, i, defs));

    // D
    put(root, 1070, 68, "Up in NURR2C", 21.4, "start", { "font-weight": "bold", fill: "#12794b" });
    put(root, 1070, 302, "Down in NURR2C", 21.4, "start", { "font-weight": "bold", fill: "#5e3c86" });
    drawVenn(root.append("g"), defs, "vennA", vennUp, { cx0: 1146, cy0: 161.5, cx1: 1244, cy1: 161.5, rMax: 89, total: 150, labels: [1118.7, 1185, 1276.7], ly: 158.5, dark: [true, false, false] });
    drawVenn(root.append("g"), defs, "vennB", vennDown, { cx0: 1179, cy0: 422.3, cx1: 1288, cy1: 422, rMax: 110, total: 80, labels: [1165, 1268.7, 1310], ly: 419, dark: [true, false, false] });
    put(root, 1275, 264, "p = 7.9e-62", 18.4);
    put(root, 1275, 286, "OR = 148.65", 18.4);
    put(root, 1275, 503, "p = 3.2e-13", 18.4);
    put(root, 1275, 524.7, "OR = 367.91", 18.4);
    const vennKeys: [string, string, number][] = [["MHb", DARK, 316], ["LHb", LIGHT, 338.7], ["Shared", GREY, 360]];
    vennKeys.forEach(([name, fill, cy]) => {
      root.append("circle").attr("cx", 1371.7).attr("cy", cy).attr("r", 8.5).attr("fill", fill);
      put(root, 1355.7, cy + 6.5, name, 18.3, "end");
    });

    drawDegBars(root.append("g"));

    drawEnrichment(root.append("g"), lhbUpTerms, lhbUpValues, { header: "LHb, up in NURR2C", fill: LIGHT, x0: 1440, x1: 1799, zero: 1440, perUnit: 57, headerTop: 180.7, top: 228.3, bottom: 483.4, axisY: 491.2, ticks: [0, 2, 4, 6], titleX: 1615, headerX: 1618 });
    drawEnrichment(root.append("g"), mhbDownTerms, mhbDownValues, { header: "MHb, down in NURR2C", fill: DARK, x0: 1042, x1: 1402, zero: 1402, perUnit: 76.4, headerTop: 558, top: 604.9, bottom: 861, axisY: 868.2, ticks: [0, 1, 2, 3, 4], reversed: true, titleX: 1218.6, headerX: 1220.6 });
    drawEnrichment(root.append("g"), mhbUpTerms, mhbUpValues, { header: "MHb, up in NURR2C", fill: DARK, x0: 1440, x1: 1799, zero: 1440, perUnit: 66, headerTop: 558, top: 604.9, bottom: 861, axisY: 868.2, ticks: [0, 1, 2, 3, 4, 5], titleX: 1615, headerX: 1618 });
  }, []);

  return <svg ref={svgRef} width={1800} height={932} style={{ position: "absolute", left: 0, top: 0, background: "#fff" }} />;
}
